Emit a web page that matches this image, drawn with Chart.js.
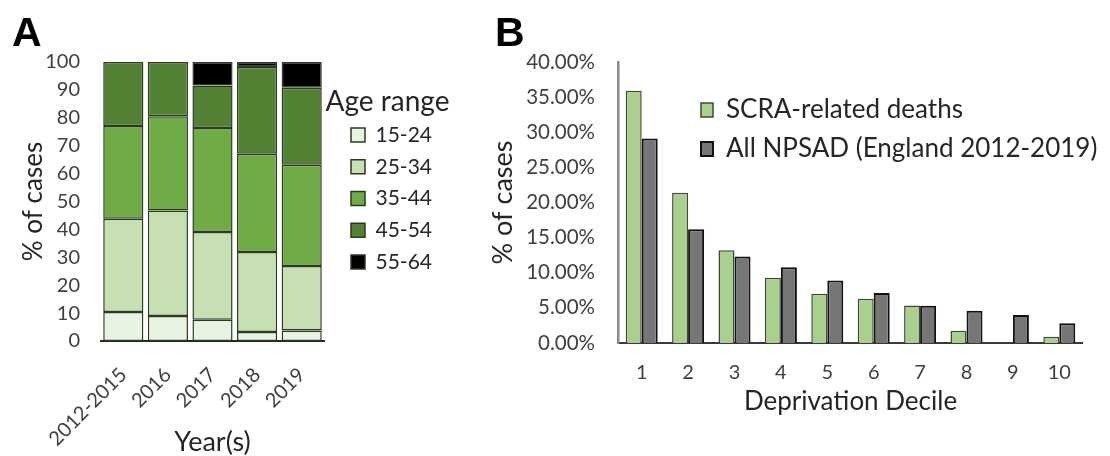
<!DOCTYPE html>
<html><head><meta charset="utf-8">
<script src="https://cdn.jsdelivr.net/npm/chart.js@4.4.1/dist/chart.umd.min.js"></script>
<style>
html,body{margin:0;padding:0;background:#fff;}
#wrap{position:relative;width:1110px;height:456px;overflow:hidden;background:#fff;}
.panel{position:absolute;top:0;height:456px;}
.lbl{position:absolute;font-family:"Liberation Sans",Arial,sans-serif;font-weight:bold;font-size:41px;line-height:1;color:#000;}
</style></head><body>
<div id="wrap">
  <div class="panel" style="left:0;width:480px;"><canvas id="cA"></canvas></div>
  <div class="panel" style="left:480px;width:630px;"><canvas id="cB"></canvas></div>
  <div class="lbl" style="left:12px;top:12px;">A</div>
  <div class="lbl" style="left:495px;top:12px;">B</div>
</div>
<script>
// ---- Panel A data ----
const yearLabels = ['2012-2015', '2016', '2017', '2018', '2019'];
const ageGroups = ['15-24', '25-34', '35-44', '45-54', '55-64'];
const age15to24 = [10.4, 9.0, 7.6, 3.2, 3.8];
const age25to34 = [33.4, 37.8, 31.5, 28.7, 23.1];
const age35to44 = [33.3, 33.8, 37.2, 35.2, 36.3];
const age45to54 = [22.9, 19.4, 15.3, 31.1, 27.6];
const age55to64 = [0, 0, 8.4, 1.8, 9.2];

// ---- Panel B data ----
const deciles = ['1', '2', '3', '4', '5', '6', '7', '8', '9', '10'];
const seriesNamesB = ['SCRA-related deaths', 'All NPSAD (England 2012-2019)'];
const scraDeaths = [35.9, 21.4, 13.2, 9.3, 7.0, 6.3, 5.35, 1.75, 0, 0.9];
const allNpsad = [29.1, 16.2, 12.3, 10.8, 8.9, 7.1, 5.3, 4.6, 4.0, 2.8];

const FONT = 'Lato';
const TICK = '#404040';
const TXT = '#262626';

// places a 'chartArea' legend at a fixed spot (and lets its title overflow the box)
const legendPlace = {
  id: 'legendPlace',
  afterUpdate(chart, args, opts) {
    const lg = chart.legend;
    if (!lg || opts.x == null) return;
    lg.left = opts.x; lg.top = opts.y;
    lg.width = opts.w; lg.right = opts.x + opts.w;
    lg.height = opts.h; lg.bottom = opts.y + opts.h;
    if (!lg.__noClip) {
      lg.draw = function () { if (this.options.display) this._draw(); };
      lg.__noClip = true;
    }
    if (lg.adjustHitBoxes) lg.adjustHitBoxes();
  }
};

// ---- Chart A ----
const colorsA = ['#e9f3e1', '#c6e0b4', '#6fac46', '#538235', '#000000'];
const valuesA = [age15to24, age25to34, age35to44, age45to54, age55to64];
new Chart(document.getElementById('cA'), {
  type: 'bar',
  data: {
    labels: yearLabels,
    datasets: ageGroups.map((g, i) => ({
      label: g, data: valuesA[i], backgroundColor: colorsA[i],
      borderColor: '#2b3a22', borderWidth: 1.5, borderSkipped: false,
      barPercentage: 0.9, categoryPercentage: 1
    }))
  },
  options: {
    responsive: true, maintainAspectRatio: false, animation: false,
    layout: { padding: { left: 13.7, top: 62, right: 156, bottom: 0 } },
    scales: {
      x: {
        stacked: true,
        grid: { display: false, drawTicks: false },
        border: { display: true, color: '#262626', width: 2 },
        ticks: { color: TICK, font: { family: FONT, size: 20 }, maxRotation: 45, minRotation: 45, padding: 22, labelOffset: 0 },
        title: { display: true, text: 'Year(s)', color: TXT, font: { family: FONT, size: 27, lineHeight: 1.0 }, padding: 0 },
        afterFit: s => { s.height = 115; }
      },
      y: {
        stacked: true, min: 0, max: 100,
        grid: { display: false, drawTicks: false },
        border: { display: false },
        ticks: { stepSize: 10, color: TICK, font: { family: FONT, size: 20 }, padding: 21 },
        title: { display: true, text: '% of cases', color: TXT, font: { family: FONT, size: 26, lineHeight: 1.2 }, padding: { top: 4, bottom: 4 } },
        afterFit: s => { s.width = 87.3; }
      }
    },
    plugins: {
      tooltip: { enabled: false },
      legend: {
        position: 'chartArea', align: 'start',
        title: { display: true, text: 'Age range', position: 'center', color: TXT, font: { family: FONT, size: 28, lineHeight: 0.92 }, padding: 0 },
        labels: { color: TXT, font: { family: FONT, size: 21 }, boxWidth: 14, boxHeight: 14, padding: 10.75 }
      },
      legendPlace: { x: 340.25, y: 88, w: 94.5, h: 320 }
    }
  },
  plugins: [legendPlace]
});

// ---- Chart B ----
new Chart(document.getElementById('cB'), {
  type: 'bar',
  data: {
    labels: deciles,
    datasets: [
      { label: seriesNamesB[0], data: scraDeaths, backgroundColor: '#a9d08e', borderColor: '#3d4a35', borderWidth: 1.5,
        barPercentage: 1, categoryPercentage: 0.69 },
      { label: seriesNamesB[1], data: allNpsad, backgroundColor: '#767676', borderColor: '#111111', borderWidth: 2,
        barPercentage: 1, categoryPercentage: 0.69 }
    ]
  },
  options: {
    responsive: true, maintainAspectRatio: false, animation: false,
    layout: { padding: { left: 2.8, top: 62, right: 27.5, bottom: 41 } },
    scales: {
      x: {
        grid: { display: false, drawTicks: false },
        border: { display: true, color: '#3a3a3a', width: 2 },
        ticks: { color: TICK, font: { family: FONT, size: 20 }, padding: 18 },
        title: { display: true, text: 'Deprivation Decile', color: TXT, font: { family: FONT, size: 26, lineHeight: 1.0 }, padding: 0 },
        afterFit: s => { s.height = 72; }
      },
      y: {
        min: 0, max: 40,
        grid: { display: false, drawTicks: false },
        border: { display: true, color: '#8a8a8a', width: 2.5 },
        ticks: { stepSize: 5, color: TICK, font: { family: FONT, size: 20.5 }, padding: 23.5,
                 callback: v => v.toFixed(2) + '%' },
        title: { display: true, text: '% of cases', color: TXT, font: { family: FONT, size: 27, lineHeight: 1.2 }, padding: { top: 4, bottom: 4 } },
        afterFit: s => { s.width = 135.7; }
      }
    },
    plugins: {
      tooltip: { enabled: false },
      legend: {
        position: 'chartArea', align: 'start',
        labels: { color: TXT, font: { family: FONT, size: 26 }, boxWidth: 12, boxHeight: 14, padding: 13 }
      },
      legendPlace: { x: 208, y: 84, w: 400, h: 300 }
    }
  },
  plugins: [legendPlace]
});
</script>
</body></html>
